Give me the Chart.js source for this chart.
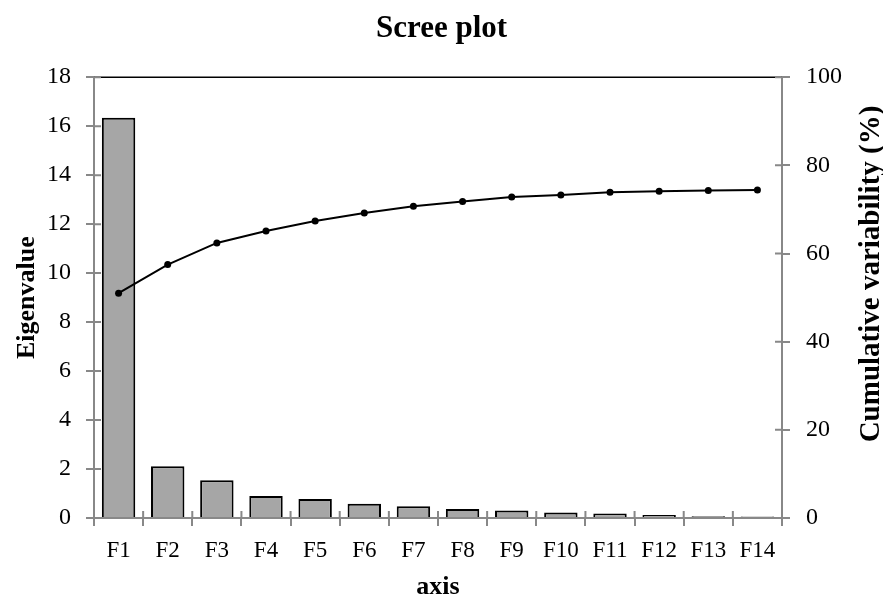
<!DOCTYPE html>
<html>
<head>
<meta charset="utf-8">
<script src="https://cdn.jsdelivr.net/npm/chart.js@4.4.0/dist/chart.umd.min.js"></script>
<style>
    body { margin: 0; background: #fff; }
    canvas { display: block; }
</style>
</head>
<body>
<canvas id="scree-chart" width="883" height="598"></canvas>
<script>
// Factors on the x axis
const factors = ['F1', 'F2', 'F3', 'F4', 'F5', 'F6', 'F7', 'F8', 'F9', 'F10', 'F11', 'F12', 'F13', 'F14'];

// Eigenvalue for each factor (left axis, bars)
const eigenvalues = [16.34, 2.11, 1.54, 0.90, 0.78, 0.58, 0.48, 0.37, 0.31, 0.22, 0.18, 0.12, 0.07, 0.06];

// Cumulative variability in % (right axis, line)
const cumulative = [51.0, 57.5, 62.4, 65.1, 67.4, 69.2, 70.7, 71.8, 72.8, 73.3, 73.9, 74.1, 74.3, 74.4];

const axisGray = '#888888';
const fontFamily = "'Liberation Serif', 'Times New Roman', serif";

// Draws the black top border, the inner half of the tick marks and the right axis title
const screeExtras = {
    id: 'screeExtras',
    afterDatasetsDraw(chart) {
        const ctx = chart.ctx;
        const area = chart.chartArea;
        ctx.save();
        ctx.strokeStyle = '#000';
        ctx.lineWidth = 1.5;
        ctx.beginPath();
        ctx.moveTo(area.left, area.top);
        ctx.lineTo(area.right, area.top);
        ctx.stroke();
        ctx.restore();
    },
    afterDraw(chart) {
        const ctx = chart.ctx;
        const yScale = chart.scales.y;
        const y1Scale = chart.scales.y1;
        const xScale = chart.scales.x;
        const inner = 7;

        ctx.save();
        ctx.strokeStyle = axisGray;
        ctx.lineWidth = 2;
        ctx.beginPath();
        yScale.ticks.forEach((t, i) => {
            const py = yScale.getPixelForTick(i);
            ctx.moveTo(yScale.right, py);
            ctx.lineTo(yScale.right + inner, py);
        });
        y1Scale.ticks.forEach((t, i) => {
            const py = y1Scale.getPixelForTick(i);
            ctx.moveTo(y1Scale.left - inner, py);
            ctx.lineTo(y1Scale.left, py);
        });
        for (let i = 0; i <= factors.length; i++) {
            const px = xScale.getPixelForValue(i - 0.5);
            ctx.moveTo(px, xScale.top - inner);
            ctx.lineTo(px, xScale.top);
        }
        ctx.stroke();

        // right axis title reads bottom to top
        ctx.fillStyle = '#000';
        ctx.font = 'bold 29px ' + fontFamily;
        ctx.textAlign = 'center';
        ctx.textBaseline = 'middle';
        ctx.translate(y1Scale.right - 11, 274);
        ctx.rotate(-Math.PI / 2);
        ctx.fillText('Cumulative variability (%)', 0, 0);
        ctx.restore();
    }
};

const ctx = document.getElementById('scree-chart').getContext('2d');

new Chart(ctx, {
    type: 'bar',
    data: {
        labels: factors,
        datasets: [
            {
                type: 'line',
                label: 'Cumulative variability (%)',
                data: cumulative,
                yAxisID: 'y1',
                order: 0,
                borderColor: '#000',
                backgroundColor: '#000',
                borderWidth: 2,
                pointRadius: 3.5,
                pointBackgroundColor: '#000',
                pointBorderWidth: 0,
                tension: 0
            },
            {
                type: 'bar',
                label: 'Eigenvalue',
                data: eigenvalues,
                yAxisID: 'y',
                order: 1,
                backgroundColor: '#a6a6a6',
                borderColor: '#000',
                borderWidth: 2,
                barPercentage: 0.68,
                categoryPercentage: 1.0
            }
        ]
    },
    options: {
        responsive: false,
        devicePixelRatio: 1,
        animation: false,
        layout: { padding: 0 },
        plugins: {
            legend: { display: false },
            tooltip: { enabled: false },
            title: {
                display: true,
                text: 'Scree plot',
                color: '#000',
                font: { family: fontFamily, size: 31, weight: 'bold' },
                padding: { top: 10, bottom: 30 }
            }
        },
        scales: {
            x: {
                offset: true,
                z: 1,
                grid: {
                    offset: true,
                    drawOnChartArea: false,
                    drawTicks: true,
                    tickLength: 8,
                    color: axisGray,
                    lineWidth: 2
                },
                border: { color: axisGray, width: 2 },
                ticks: {
                    color: '#000',
                    font: { family: fontFamily, size: 23 },
                    padding: 11,
                    maxRotation: 0,
                    autoSkip: false
                },
                title: {
                    display: true,
                    text: 'axis',
                    color: '#000',
                    font: { family: fontFamily, size: 26, weight: 'bold', lineHeight: 0.85 },
                    padding: 0
                },
                afterFit: (scale) => { scale.height = 80; }
            },
            y: {
                position: 'left',
                min: 0,
                max: 18,
                z: 1,
                grid: {
                    drawOnChartArea: false,
                    drawTicks: true,
                    tickLength: 8,
                    color: axisGray,
                    lineWidth: 2
                },
                border: { color: axisGray, width: 2 },
                ticks: {
                    stepSize: 2,
                    color: '#000',
                    font: { family: fontFamily, size: 24 },
                    padding: 15
                },
                title: {
                    display: true,
                    text: 'Eigenvalue',
                    color: '#000',
                    font: { family: fontFamily, size: 26, weight: 'bold' },
                    padding: { top: 12 }
                },
                afterFit: (scale) => { scale.width = 94; }
            },
            y1: {
                position: 'right',
                min: 0,
                max: 100,
                z: 1,
                grid: {
                    drawOnChartArea: false,
                    drawTicks: true,
                    tickLength: 8,
                    color: axisGray,
                    lineWidth: 2
                },
                border: { color: axisGray, width: 2 },
                ticks: {
                    stepSize: 20,
                    color: '#000',
                    font: { family: fontFamily, size: 24 },
                    padding: 16
                },
                afterFit: (scale) => { scale.width = 101; }
            }
        }
    },
    plugins: [screeExtras]
});
</script>
</body>
</html>
